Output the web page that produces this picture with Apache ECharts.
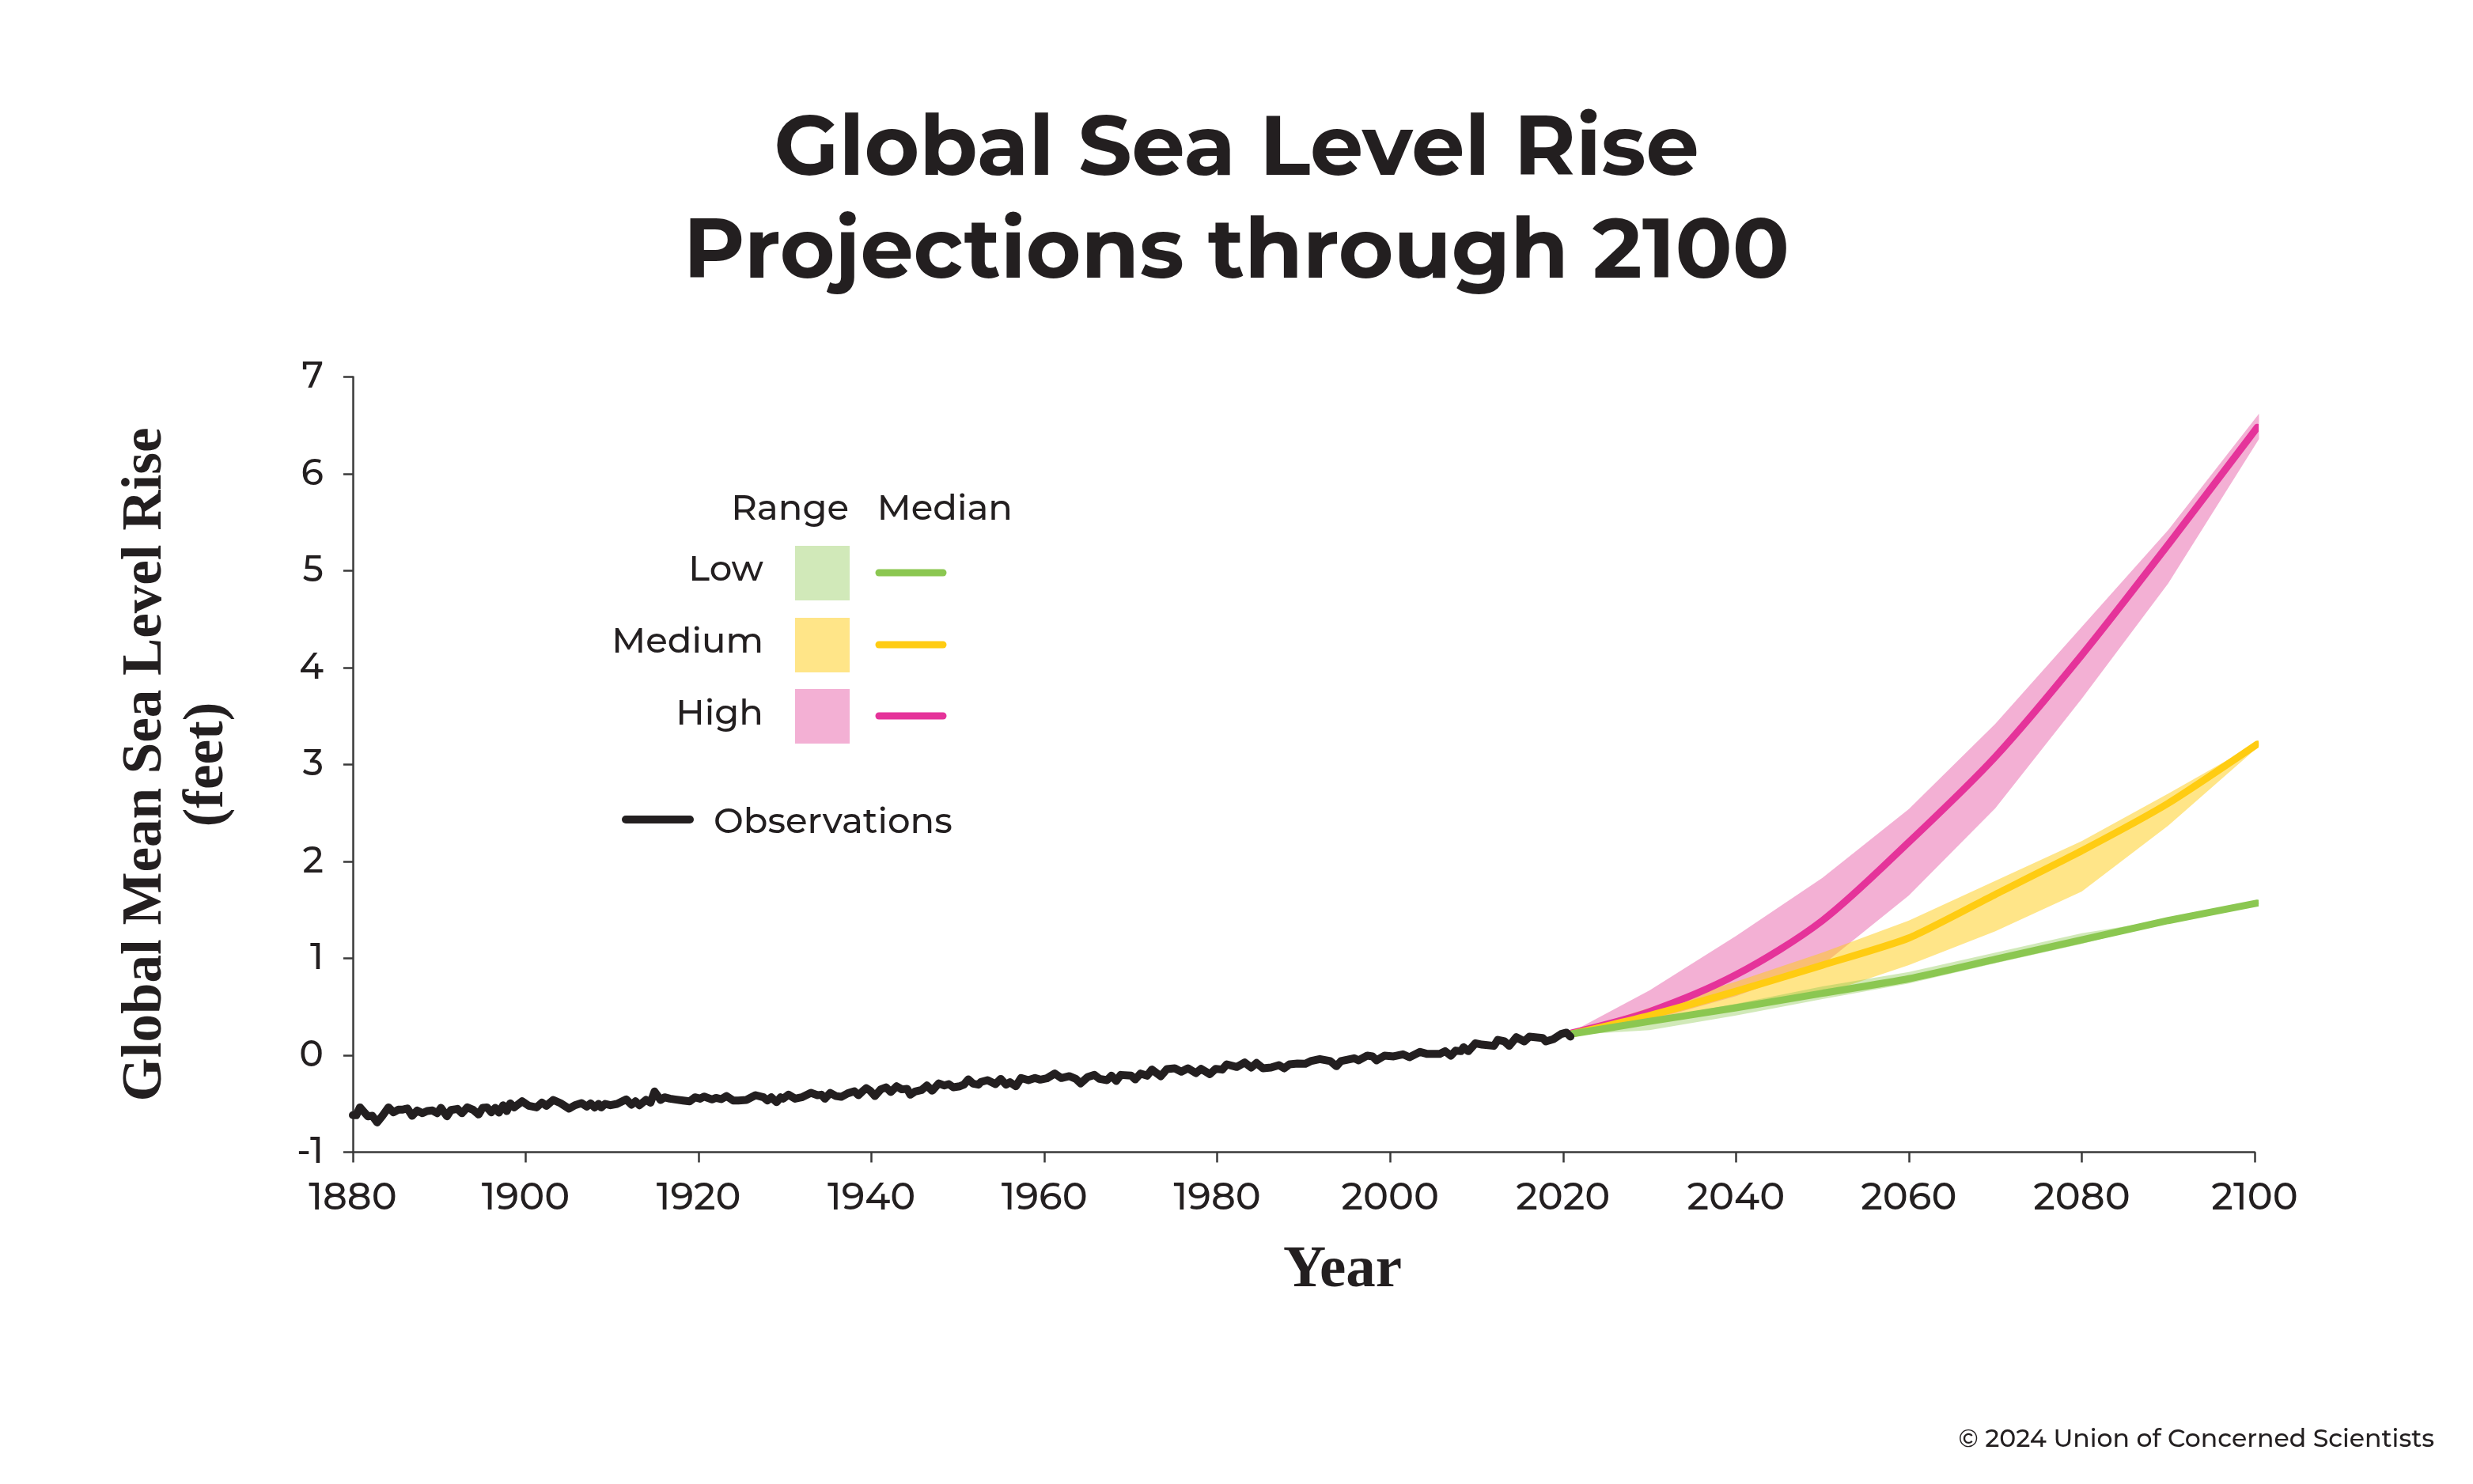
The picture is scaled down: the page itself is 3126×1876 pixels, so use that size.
<!DOCTYPE html>
<html lang="en">
<head>
<meta charset="UTF-8">
<title>Global Sea Level Rise Projections through 2100</title>
<script src="https://cdn.jsdelivr.net/npm/echarts@6/dist/echarts.min.js"></script>
<style>html,body{margin:0;background:#fff}</style>
</head>
<body>
<div id="main" style="width:3126px;height:1876px"></div>
<script>
// observations
var obsYears = [1880.0,1880.4,1880.82,1881.28,1881.74,1882.26,1882.81,1883.42,1884.12,1884.7,1885.25,1885.7,1886.31,1886.86,1887.44,1888.05,1888.6,1889.21,1889.76,1890.19,1890.89,1891.35,1892.11,1892.63,1893.24,1893.94,1894.55,1895.01,1895.53,1896.01,1896.47,1896.9,1897.39,1897.81,1898.21,1898.67,1899.58,1900.35,1901.26,1901.87,1902.39,1903.18,1904.01,1905.01,1905.68,1906.45,1907.06,1907.51,1907.97,1908.43,1908.73,1909.19,1909.8,1910.56,1911.63,1912.24,1912.7,1913.16,1913.92,1914.44,1914.9,1915.6,
1916.06,1916.67,1917.28,1918.2,1918.96,1919.57,1920.18,1920.64,1921.55,1922.01,1922.62,1923.23,1923.99,1924.6,1925.52,1926.58,1927.5,1927.96,1928.41,1929.02,1929.48,1929.79,1930.4,1931.16,1931.92,1932.99,1933.75,1934.21,1934.61,1935.22,1935.89,1936.5,1937.26,1938.02,1938.48,1938.94,1939.4,1939.85,1940.4,1941.07,1941.68,1942.23,1942.9,1943.51,1944.12,1944.49,1945.04,1945.8,1946.41,1947.02,1947.78,1948.4,1948.94,1949.46,1950.22,1950.68,1951.2,1951.75,1952.36,
1952.66,1953.42,1954.34,1954.95,1955.56,1956.02,1956.69,1957.3,1958.15,1958.91,1959.52,1960.29,1961.2,1961.96,1962.88,1963.64,1964.19,1965.01,1965.78,1966.39,1967.24,1967.76,1968.31,1968.83,1970.05,1970.51,1971.12,1971.88,1972.43,1973.46,1974.17,1975.08,1975.84,1976.61,1977.52,1978.13,1979.14,1979.81,1980.57,1981.09,1982.25,1983.17,1983.93,1984.54,1985.3,1986.22,1987.13,1987.74,1988.35,1989.27,
1990.19,1990.8,1991.86,1993.08,1993.78,1994.3,1995.83,1996.35,1997.35,1997.96,1998.42,1999.34,2000.4,2001.47,2002.23,2003.45,2004.22,2005.74,2006.35,2007.02,2007.57,2008.18,2008.49,2009.04,2009.86,2010.62,2012.0,2012.45,2013.22,2013.77,2014.59,2015.51,2016.11,2017.64,2018.01,2018.86,2019.78,2020.39,2020.85];
var obsValues = [-.619,-.619,-.538,-.584,-.63,-.625,-.693,-.625,-.538,-.589,-.562,-.562,-.549,-.625,-.57,-.598,-.576,-.57,-.598,-.543,-.63,-.565,-.554,-.598,-.538,-.565,-.611,-.543,-.538,-.589,-.543,-.592,-.516,-.576,-.497,-.538,-.475,-.521,-.538,-.489,-.521,-.461,-.494,-.551,-.516,-.494,-.53,-.497,-.538,-.502,-.538,-.502,-.516,-.502,-.456,-.51,-.475,-.516,-.461,-.489,-.374,-.461,
-.434,-.448,-.456,-.467,-.475,-.434,-.448,-.426,-.456,-.44,-.453,-.421,-.467,-.467,-.461,-.412,-.434,-.467,-.434,-.483,-.434,-.448,-.407,-.448,-.434,-.388,-.412,-.407,-.448,-.388,-.421,-.429,-.393,-.372,-.412,-.374,-.339,-.366,-.421,-.352,-.331,-.38,-.32,-.352,-.347,-.407,-.374,-.358,-.312,-.366,-.29,-.312,-.298,-.331,-.32,-.303,-.249,-.293,-.303,
-.276,-.257,-.298,-.244,-.303,-.279,-.32,-.235,-.257,-.235,-.252,-.238,-.189,-.235,-.216,-.244,-.29,-.224,-.203,-.244,-.257,-.211,-.265,-.203,-.211,-.249,-.189,-.211,-.148,-.216,-.143,-.135,-.17,-.135,-.184,-.14,-.195,-.14,-.148,-.094,-.121,-.075,-.127,-.08,-.135,-.127,-.102,-.135,-.094,-.086,
-.088,-.061,-.039,-.061,-.113,-.061,-.031,-.053,-.004,-.012,-.053,-.004,-.012,.01,-.02,.034,.015,.015,.042,-.004,.048,.042,.083,.042,.124,.11,.097,.159,.143,.097,.186,.143,.192,.178,.143,.165,.219,.233,.192];

// projections
var rangeYears = [2021,2030,2040,2050,2060,2070,2080,2090,2100.5];
var lowUpper = [.23,.37,.53,.71,.86,1.06,1.26,1.40,1.58];
var lowLower = [.21,.26,.41,.58,.74,.95,1.15,1.38,1.56];
var medUpper = [.23,.49,.76,1.06,1.39,1.80,2.21,2.70,3.23];
var medLower = [.21,.33,.46,.63,.93,1.28,1.69,2.37,3.19];
var highUpper = [.24,.67,1.23,1.83,2.54,3.42,4.42,5.42,6.62];
var highLower = [.22,.36,.61,.93,1.65,2.55,3.68,4.87,6.36];

var medianYears = [2021,2030,2040,2050,2060,2070,2080,2090,2100.3];
var lowMedian = [.22,.35,.49,.64,.79,.99,1.19,1.39,1.57];
var medMedian = [.22,.41,.66,.93,1.21,1.66,2.11,2.60,3.21];
var highMedian = [.23,.45,.83,1.39,2.2,3.08,4.13,5.27,6.48];

var xTicks = {min:1880, max:2100, step:20};
var yTicks = {min:-1, max:7, step:1};

var INK = '#231f20';
var SANS = 'Montserrat, Lato, sans-serif';
var SERIF = '"Liberation Serif", serif';
var GREEN = '#8bc751', YELLOW = '#ffcc12', PINK = '#e5339a', PINK_FILL = '#e03a94';

function pairs(xs, ys) {
    return xs.map(function (x, i) { return [x, ys[i]]; });
}

// one filled polygon between the two edges of a range
function band(lower, upper, color, opacity) {
    return {
        type: 'custom',
        coordinateSystem: 'cartesian2d',
        clip: false,
        silent: true,
        encode: {x: 0, y: [1, 2]},
        data: rangeYears.map(function (y, i) { return [y, lower[i], upper[i]]; }),
        renderItem: function (params, api) {
            if (params.dataIndex !== 0) return null;
            var pts = [];
            rangeYears.forEach(function (y, i) { pts.push(api.coord([y, upper[i]])); });
            for (var i = rangeYears.length - 1; i >= 0; i--) pts.push(api.coord([rangeYears[i], lower[i]]));
            return {type: 'polygon', shape: {points: pts}, style: {fill: color, opacity: opacity}};
        }
    };
}

function median(vals, color, smooth) {
    return {
        type: 'line', data: pairs(medianYears, vals), showSymbol: false, smooth: smooth, clip: false, silent: true,
        lineStyle: {color: color, width: 9, cap: 'round', join: 'round'}
    };
}

function label(text, x, y, align) {
    return {type: 'text', x: x, y: y, silent: true,
        style: {text: text, font: '500 45px ' + SANS, fill: INK, textAlign: align, textVerticalAlign: 'bottom'}};
}
function swatch(y, color, opacity) {
    return {type: 'rect', shape: {x: 1005, y: y, width: 69, height: 69}, silent: true, style: {fill: color, opacity: opacity}};
}
function key(x1, y, color, w) {
    return {type: 'line', shape: {x1: x1, y1: y, x2: x1 + 81, y2: y}, silent: true,
        style: {stroke: color, lineWidth: w, lineCap: 'round'}};
}

var chart = echarts.init(document.getElementById('main'));
chart.setOption({
    animation: false,
    backgroundColor: '#fff',
    title: {
        text: 'Global Sea Level Rise\nProjections through 2100',
        left: 'center', top: 120,
        textStyle: {fontFamily: SANS, fontWeight: 700, fontSize: 106.5, lineHeight: 130, color: INK}
    },
    grid: {left: 446, top: 476.5, width: 2404, height: 980},
    xAxis: {
        type: 'value', min: xTicks.min, max: xTicks.max, interval: xTicks.step,
        splitLine: {show: false},
        axisLine: {onZero: false, lineStyle: {color: '#3a3a3a', width: 2.5}},
        axisTick: {length: 13, lineStyle: {color: '#3a3a3a', width: 2.5}},
        axisLabel: {margin: 34, fontFamily: SANS, fontWeight: 500, fontSize: 48, color: INK,
            formatter: function (v) { return String(v); },
            showMinLabel: true, showMaxLabel: true}
    },
    yAxis: {
        type: 'value', min: yTicks.min, max: yTicks.max, interval: yTicks.step,
        name: 'Global Mean Sea Level Rise\n(feet)',
        nameLocation: 'middle', nameRotate: 90, nameGap: 144,
        nameTextStyle: {fontFamily: SERIF, fontWeight: 700, fontSize: 71, lineHeight: 78, color: INK},
        splitLine: {show: false},
        axisLine: {onZero: false, lineStyle: {color: '#3a3a3a', width: 2.5}},
        axisTick: {length: 12, lineStyle: {color: '#3a3a3a', width: 2.5}},
        axisLabel: {margin: 37, padding: [6, 0, 0, 0], fontFamily: SANS, fontWeight: 500, fontSize: 46, color: INK,
            showMinLabel: true, showMaxLabel: true}
    },
    series: [
        band(highLower, highUpper, PINK_FILL, 0.4),
        band(medLower, medUpper, YELLOW, 0.5),
        band(lowLower, lowUpper, GREEN, 0.4),
        median(highMedian, PINK, 0.3),
        median(medMedian, YELLOW, 0.2),
        median(lowMedian, GREEN, 0.2),
        {
            type: 'line', data: pairs(obsYears, obsValues), showSymbol: false, clip: false, silent: true,
            lineStyle: {color: INK, width: 10, cap: 'round', join: 'round'}
        }
    ],
    graphic: [
        label('Range', 1073, 666, 'right'),
        label('Median', 1280, 666, 'right'),
        label('Low', 965, 743, 'right'),
        label('Medium', 965, 834, 'right'),
        label('High', 965, 925, 'right'),
        label('Observations', 902, 1062, 'left'),
        swatch(690, GREEN, 0.4), swatch(781, YELLOW, 0.5), swatch(871, PINK_FILL, 0.4),
        key(1111, 724, GREEN, 9), key(1111, 815, YELLOW, 9), key(1111, 905, PINK, 9),
        key(791, 1036, INK, 10),
        {type: 'text', x: 1697, y: 1644, silent: true,
            style: {text: 'Year', font: '700 75px ' + SERIF, fill: INK, textAlign: 'center', textVerticalAlign: 'bottom'}},
        {type: 'text', x: 3077, y: 1836, silent: true,
            style: {text: '\u00a9 2024 Union of Concerned Scientists', font: '500 31.5px ' + SANS, fill: INK, textAlign: 'right', textVerticalAlign: 'bottom'}}
    ]
});
</script>
</body>
</html>
